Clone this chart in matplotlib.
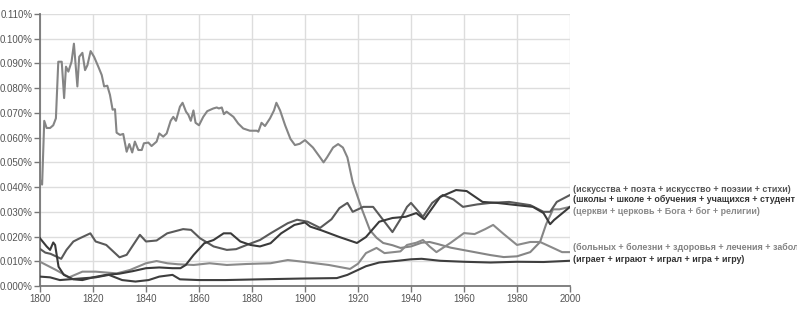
import numpy as np
import matplotlib.pyplot as plt
from matplotlib.ticker import FuncFormatter

# series values (percent)
church_years = [1800, 1800.8, 1801.6, 1802.5, 1803.8, 1805, 1806, 1806.9, 1808.2, 1809.1,
                1809.8, 1810.7, 1811.9, 1812.8, 1814.1, 1814.8, 1816, 1817, 1817.9, 1819.1,
                1820.4, 1822, 1823.3, 1824.2, 1825.4, 1826.4, 1827.4, 1828.3, 1828.9, 1830.2,
                1831.4, 1832.7, 1833.7, 1834.8, 1835.8, 1837.1, 1838.4, 1839.2, 1840.9, 1842.1,
                1844, 1845, 1846.5, 1847.8, 1849.3, 1850.3, 1851.3, 1852.8, 1853.8, 1855.1,
                1856, 1856.9, 1857.9, 1858.7, 1860, 1861.6, 1863.1, 1865.4, 1866.7, 1867.5,
                1868.6, 1869.4, 1870.4, 1873, 1874.8, 1876.7, 1879.2, 1881.8, 1882.4, 1883.6,
                1884.9, 1886.8, 1888.3, 1889.2, 1890.6, 1892.5, 1894.5, 1896.2, 1898, 1900,
                1903, 1905.7, 1907, 1908.3, 1910.6, 1912.5, 1914.3, 1916, 1918, 1921.5,
                1924.5, 1927, 1929.5, 1933, 1936, 1940, 1944, 1947, 1950, 1955,
                1960, 1965, 1970, 1975, 1980, 1985, 1988.7, 1991, 1993.6, 1996, 2000]
church_vals = [0.043, 0.041, 0.0668, 0.0639, 0.0639, 0.065, 0.0678, 0.0907, 0.0907, 0.076,
               0.0887, 0.0867, 0.0907, 0.098, 0.0807, 0.0927, 0.0943, 0.0873, 0.0893, 0.095,
               0.0927, 0.0887, 0.0853, 0.0807, 0.081, 0.0773, 0.0713, 0.0715, 0.062, 0.0611,
               0.0615, 0.0543, 0.0574, 0.054, 0.0584, 0.055, 0.055, 0.0577, 0.058, 0.0566,
               0.0584, 0.0617, 0.0604, 0.0617, 0.0668, 0.0684, 0.0668, 0.0725, 0.0741, 0.0705,
               0.0692, 0.0668, 0.071, 0.066, 0.065, 0.0684, 0.0707, 0.0718, 0.0722, 0.0718,
               0.0722, 0.0695, 0.0705, 0.0684, 0.0657, 0.0637, 0.0628, 0.0628, 0.0624, 0.066,
               0.0647, 0.0678, 0.071, 0.0741, 0.071, 0.065, 0.0595, 0.057, 0.0575, 0.059,
               0.056, 0.052, 0.050, 0.052, 0.056, 0.0574, 0.056, 0.052, 0.042, 0.031,
               0.0226, 0.0195, 0.0174, 0.0165, 0.0154, 0.016, 0.0175, 0.0178, 0.017, 0.0155,
               0.0145, 0.0135, 0.0125, 0.0117, 0.012, 0.0137, 0.0178, 0.025, 0.031, 0.031, 0.032]

art_years = [1800, 1802, 1804, 1806, 1808, 1810, 1812.6, 1815, 1819, 1821,
             1825, 1830, 1832.7, 1837.7, 1840, 1844, 1848, 1854, 1857, 1860.4,
             1865.5, 1870.5, 1874, 1878, 1883, 1887, 1893.5, 1897, 1901, 1905.7,
             1910, 1913, 1916, 1918, 1922, 1925.7, 1929.5, 1933, 1936, 1938.5,
             1940, 1944.5, 1948, 1951, 1952, 1956, 1959.6, 1965, 1970, 1977,
             1985, 1990, 1992.5, 1995, 2000]
art_vals = [0.015, 0.0135, 0.013, 0.012, 0.011, 0.0146, 0.018, 0.0193, 0.0213, 0.018,
            0.0166, 0.0116, 0.0126, 0.0207, 0.018, 0.0184, 0.0213, 0.023, 0.0227, 0.0193,
            0.016, 0.0146, 0.0149, 0.0166, 0.0186, 0.0213, 0.0254, 0.0268, 0.026, 0.0235,
            0.027, 0.0315, 0.0336, 0.030, 0.032, 0.032, 0.0267, 0.0218, 0.027, 0.032,
            0.0336, 0.028, 0.0336, 0.036, 0.0368, 0.035, 0.032, 0.033, 0.0336, 0.034,
            0.0327, 0.030, 0.030, 0.034, 0.0368]

school_years = [1800, 1802.5, 1803.8, 1805, 1805.7, 1807, 1809, 1812.6, 1816, 1820,
                1825, 1830, 1835, 1840, 1845, 1850, 1853, 1855, 1858, 1862,
                1865.5, 1869.3, 1872, 1875.6, 1879.4, 1883, 1887, 1891, 1896, 1900,
                1902, 1906, 1913, 1919.6, 1923, 1928, 1933, 1938, 1942, 1945,
                1951, 1957, 1961, 1967, 1972.5, 1980, 1986, 1990, 1992.5, 1994, 2000]
school_vals = [0.0193, 0.016, 0.0146, 0.0176, 0.0166, 0.0078, 0.0045, 0.0027, 0.0024, 0.0035,
               0.0045, 0.005, 0.006, 0.0072, 0.0075, 0.0072, 0.0072, 0.0085, 0.0126, 0.0173,
               0.0186, 0.0213, 0.0213, 0.018, 0.0166, 0.016, 0.0173, 0.0213, 0.0247, 0.0257,
               0.024, 0.0226, 0.0198, 0.0174, 0.0198, 0.026, 0.0275, 0.028, 0.0295, 0.027,
               0.036, 0.0388, 0.0384, 0.034, 0.0336, 0.0327, 0.032, 0.0295, 0.025, 0.0267, 0.032]

disease_years = [1800, 1806, 1811, 1816, 1821, 1829, 1834, 1840, 1844, 1848,
                 1852, 1858, 1864, 1870.5, 1878, 1887, 1893.5, 1898.5, 1909, 1917,
                 1920, 1923, 1927, 1930, 1936, 1938.5, 1942, 1944.5, 1947, 1949.6,
                 1955, 1960, 1964, 1968, 1971, 1975, 1980, 1985, 1988.7, 1993.6,
                 1997, 2000]
disease_vals = [0.0098, 0.0065, 0.0035, 0.0058, 0.0058, 0.0051, 0.0065, 0.0092, 0.0101, 0.0092,
                0.0088, 0.0085, 0.0092, 0.0085, 0.0089, 0.0092, 0.0105, 0.0099, 0.0085, 0.0069,
                0.009, 0.0133, 0.0154, 0.0133, 0.014, 0.0166, 0.0175, 0.0186, 0.016, 0.0137,
                0.0175, 0.0214, 0.021, 0.023, 0.0247, 0.021, 0.0166, 0.0178, 0.0178, 0.0154,
                0.0137, 0.0137]

game_years = [1800, 1803.8, 1807.5, 1811, 1816, 1821, 1826, 1831, 1836, 1841,
              1845, 1850, 1852.8, 1860, 1870, 1883, 1898, 1912, 1916, 1920,
              1923, 1928, 1935, 1940, 1944, 1951, 1960, 1970, 1980, 1990, 2000]
game_vals = [0.0038, 0.0035, 0.0024, 0.0027, 0.0031, 0.0035, 0.0045, 0.0024, 0.0018, 0.0024,
             0.0038, 0.0045, 0.0027, 0.0024, 0.0024, 0.0027, 0.003, 0.0032, 0.0045, 0.0065,
             0.008, 0.0095, 0.0102, 0.0108, 0.011, 0.0102, 0.0098, 0.0095, 0.0098, 0.0097, 0.0102]

# legend texts as visible in the reference (cut at the right edge there)
labels = ['(искусства + поэта + искусство + поэзии + стихи)',
          '(школы + школе + обучения + учащихся + студент',
          '(церкви + церковь + Бога + бог + религии)',
          '(больных + болезни + здоровья + лечения + забол',
          '(играет + играют + играл + игра + игру)']

series = [(art_years, art_vals), (school_years, school_vals), (church_years, church_vals),
          (disease_years, disease_vals), (game_years, game_vals)]
colors = ['#5a5a5a', '#3a3a3a', '#858585', '#8a8a8a', '#3e3e3e']
text_colors = ['#555555', '#333333', '#888888', '#828282', '#333333']
label_y = [0.0390, 0.0348, 0.0303, 0.0154, 0.0109]   # label positions (layout)
draw_order = [2, 3, 0, 1, 4]

plt.rcParams['font.family'] = ['Liberation Sans', 'DejaVu Sans']

fig = plt.figure(figsize=(7.97, 3.15), dpi=100)
ax = fig.add_axes([40/797, 29/315, 530/797, 272/315])

for i in draw_order:
    yrs, vals = series[i]
    ax.plot(yrs, vals, color=colors[i], lw=1.5, solid_joinstyle='round', zorder=3)

for i, lab in enumerate(labels):
    ax.text(2001.0, label_y[i], lab, color=text_colors[i], fontsize=6.4,
            fontweight='bold', va='center', ha='left', clip_on=False)

ax.set_xlim(1800, 2000)
ax.set_ylim(0, 0.11)
ax.set_xticks(np.arange(1800, 2001, 20))
ax.set_yticks(np.arange(0, 0.1101, 0.01))
ax.yaxis.set_major_formatter(FuncFormatter(lambda v, p: '%.3f%%' % v))
ax.grid(True, color='#dddddd', lw=1)
ax.set_axisbelow(True)
for s in ['top', 'right']:
    ax.spines[s].set_visible(False)
for s in ['left', 'bottom']:
    ax.spines[s].set_color('#777777')
    ax.spines[s].set_linewidth(1.3)
ax.tick_params(colors='#777777', labelcolor='#555555', labelsize=7.0, length=4, width=1, pad=1.5)

fig.savefig('out.png', dpi=100)
